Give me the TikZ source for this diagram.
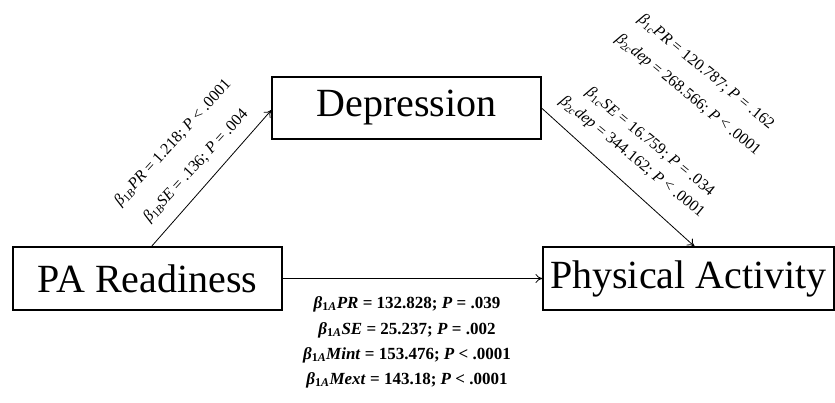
\documentclass[tikz,border=0pt]{standalone}
\usepackage{fontspec}
\setmainfont{Liberation Serif}
\usetikzlibrary{arrows.meta,calc}
\newcommand{\bet}[1]{\textit{β}\textsubscript{#1}}
\begin{document}
\begin{tikzpicture}[x=1pt,y=-1pt,
  box/.style={draw,line width=1.1pt,inner sep=0pt,font=\fontsize{40}{44}\selectfont},
  conn/.style={line width=0.8pt,-{To[length=7pt,width=9pt]}},
  lab/.style={inner sep=0pt,font=\fontsize{16}{18}\selectfont},
  blab/.style={inner sep=0pt,font=\fontsize{17}{19}\selectfont\bfseries}]
\useasboundingbox (0,0) rectangle (835,402);
\node[box,minimum width=269pt,minimum height=63pt] (pa) at (147.5,278.5) {PA Readiness};
\node[box,minimum width=269pt,minimum height=62pt] (dep) at (406.5,108) {Depression};
\node[box,minimum width=291pt,minimum height=63pt] (phys) at (688.5,278.5) {Physical Activity};
\draw[conn] ([xshift=4pt]pa.north) -- ([yshift=-2pt]dep.west);
\draw[conn] (dep.east) -- ([xshift=6pt]phys.north);
\draw[conn] (pa.east) -- (phys.west);
% left labels
\node[lab,rotate=47.5] (l1) at (173,143) {\bet{1\textit{B}}\textit{PR} = 1.218; \textit{P} < .0001};
\node[lab,rotate=47.5] (l2) at (196,166) {\bet{1\textit{B}}\textit{SE} = .136; \textit{P} = .004};
% right labels
\node[lab,rotate=-39.5] (r1) at (706,72) {\bet{1\textit{c}}\textit{PR} = 120.787; \textit{P} = .162};
\node[lab,rotate=-39.5] (r2) at (688,95) {\bet{2\textit{c}}\textit{dep} = 268.566; \textit{P} < .0001};
\node[lab,rotate=-39.5] (r3) at (650,142) {\bet{1\textit{c}}\textit{SE} = 16.759; \textit{P} = .034};
\node[lab,rotate=-39.5] (r4) at (632,157) {\bet{2\textit{c}}\textit{dep} = 344.162; \textit{P} < .0001};
% bottom labels
\node[blab] (b1) at (407,304) {\bet{1\textit{A}}\textit{PR} = 132.828; \textit{P} = .039};
\node[blab] (b2) at (407,330) {\bet{1\textit{A}}\textit{SE} = 25.237; \textit{P} = .002};
\node[blab] (b3) at (407,355) {\bet{1\textit{A}}\textit{Mint} = 153.476; \textit{P} < .0001};
\node[blab] (b4) at (407,380) {\bet{1\textit{A}}\textit{Mext} = 143.18; \textit{P} < .0001};
\end{tikzpicture}
\end{document}
